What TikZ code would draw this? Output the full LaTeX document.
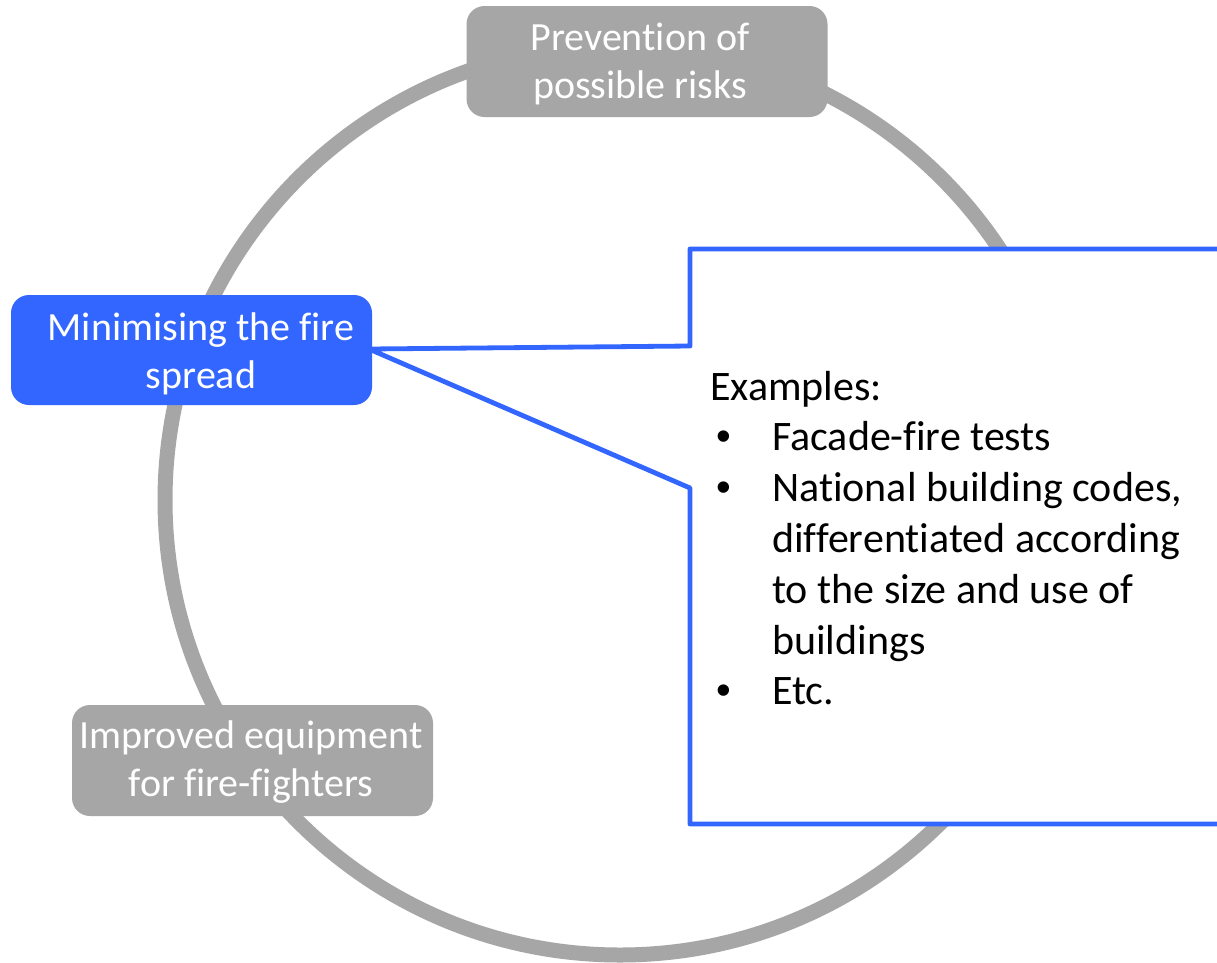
\documentclass[tikz,border=0pt]{standalone}
\usepackage{fontspec}
\setmainfont[RawFeature={-liga;-clig;-calt;-dlig}]{Carlito}
\newfontfamily\bulletfont{Liberation Sans}
\definecolor{ringgray}{RGB}{166,166,166}
\definecolor{callblue}{RGB}{51,102,255}
\newcommand{\blt}{\hspace*{6pt}\makebox[56pt][l]{\bulletfont •}}
\tikzset{
  ringbox/.style={fill=ringgray, rounded corners=18pt, minimum width=361pt, minimum height=111pt, inner sep=0pt},
  activebox/.style={fill=callblue, rounded corners=18pt, minimum width=361pt, minimum height=110pt, inner sep=0pt},
  boxtext/.style={text=white, align=center, inner sep=0pt, font=\fontsize{40}{48}\selectfont},
  callout/.style={draw=callblue, fill=white, line width=4.8pt, line join=round},
  calltext/.style={text=black, align=left, inner sep=0pt, font=\fontsize{42}{50.8}\selectfont}
}
\begin{document}
\begin{tikzpicture}[x=1pt,y=-1pt]
\useasboundingbox (0,0) rectangle (1217,962);
\clip (0,0) rectangle (1217,962);
\fill[white] (0,0) rectangle (1217,962);
% ring
\draw[ringgray, line width=15pt] (620,500) circle[radius=455pt];
% callout
\coordinate (apex) at (369,349);
\draw[callout] (apex) -- (690,346) -- (690,249) -- (1240,249) -- (1240,824) -- (690,824) -- (690,488) -- cycle;
% boxes
\node[ringbox] (prev) at (647,61.5) {};
\node[boxtext] (prevtext) at (640,64) {Prevent\kern0pt ion of\\possible risks};
\node[activebox] (mini) at (191.5,350) {};
\node[boxtext] (minitext) at (201,354) {Minimising the fire\\spread};
\node[ringbox] (equip) at (252.5,760.5) {};
\node[boxtext] (equiptext) at (251,762.5) {Improved equipment\\for fire-fighters};
% callout text
\node[calltext, anchor=west] (examples) at (710,538) {Examples:\\
\blt Facade-fire tests\\
\blt National building codes,\\
\hspace*{62pt}differentiated according\\
\hspace*{62pt}to the size and use of\\
\hspace*{62pt}buildings\\
\blt Etc.};
\end{tikzpicture}
\end{document}
